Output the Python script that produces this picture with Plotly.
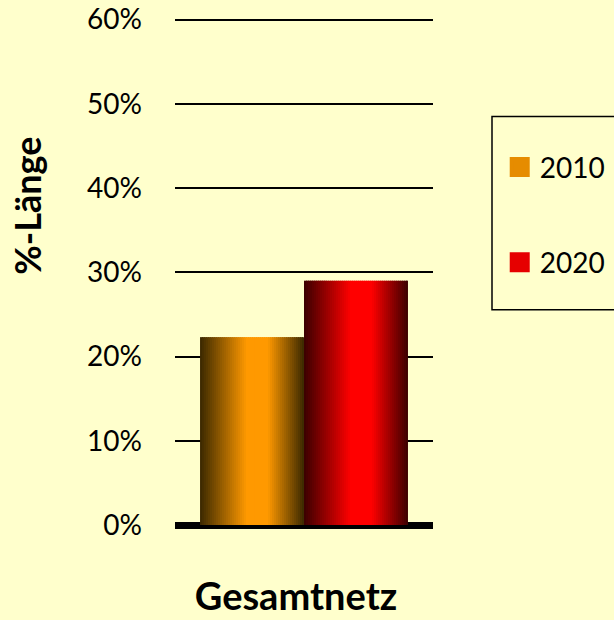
import plotly.graph_objects as go

categories = ["Gesamtnetz"]
series_names = ["2010", "2020"]
values_2010 = [0.223]
values_2020 = [0.29]
y_tick_vals = [0, 0.1, 0.2, 0.3, 0.4, 0.5, 0.6]
y_tick_text = ["0%", "10%", "20%", "30%", "40%", "50%", "60%"]

series_values = [values_2010, values_2020]
edge_colors = [(0x3A, 0x28, 0x00), (0x3A, 0x00, 0x00)]
center_colors = [(0xFF, 0x99, 0x00), (0xFF, 0x00, 0x00)]

FONT = "Lato"
BG = "#FFFFCC"

fig = go.Figure()

group_width = 0.806
bar_w = group_width / 2
N = 52


def grad(t):
    if t < 0.45:
        return t / 0.45
    if t < 0.65:
        return 1.0
    return max(0.0, 1 - (t - 0.65) / 0.35)


for s, vals in enumerate(series_values):
    start = -group_width / 2 + s * bar_w
    for i in range(N):
        t = (i + 0.5) / N
        g = grad(t)
        e, c = edge_colors[s], center_colors[s]
        col = "rgb(%d,%d,%d)" % tuple(round(e[k] + (c[k] - e[k]) * g) for k in range(3))
        sw = bar_w / N
        w = sw * (1.6 if i < N - 1 else 1.0)
        fig.add_trace(go.Bar(
            x=categories, y=vals, width=w, offset=start + i * sw,
            marker=dict(color=col, line=dict(width=0)),
            showlegend=False, hoverinfo="skip",
        ))

legend_colors = ["rgb(230,140,0)", "rgb(230,0,0)"]
for s, name in enumerate(series_names):
    fig.add_trace(go.Scatter(
        x=[None], y=[None], mode="markers", name=name,
        marker=dict(symbol="square", size=16, color=legend_colors[s],
                    line=dict(width=4, color=legend_colors[s])),
        legendgroup=name,
    ))

PLOT_TOP = 20
PLOT_ZERO = 525
YMAX = 0.603
px_per_unit = (PLOT_ZERO - PLOT_TOP) / 0.6
top_margin = PLOT_ZERO - px_per_unit * YMAX


def py(v):
    return (PLOT_ZERO - v) / (px_per_unit * YMAX)


fig.update_layout(
    width=614, height=620,
    paper_bgcolor=BG, plot_bgcolor=BG,
    margin=dict(l=175, r=181, t=top_margin, b=620 - PLOT_ZERO, autoexpand=False),
    barmode="overlay",
    font=dict(family=FONT, size=28, color="#000000"),
    xaxis=dict(
        range=[-0.5, 0.5], showgrid=False, zeroline=False, showline=False,
        ticks="", ticklabelstandoff=46, ticklabelshift=-8, automargin=False,
        tickfont=dict(family=FONT, size=38, color="#000000", weight="bold"),
    ),
    yaxis=dict(
        range=[0, YMAX], tickvals=y_tick_vals, ticktext=y_tick_text,
        showgrid=True, gridcolor="#000000", gridwidth=2,
        zeroline=True, zerolinecolor="#000000", zerolinewidth=7,
        showline=False, ticks="", ticklabelstandoff=32, automargin=False,
        tickfont=dict(family=FONT, size=28, color="#000000"),
    ),
    legend=dict(
        x=1.2586, y=py(215), xanchor="left", yanchor="middle",
        bgcolor="rgba(0,0,0,0)", borderwidth=0,
        font=dict(family=FONT, size=28, color="#000000"),
        traceorder="grouped", tracegroupgap=56, itemwidth=30,
    ),
    annotations=[dict(
        text="<b>%-Länge</b>", textangle=-90, xref="paper", yref="paper",
        x=0, xshift=-172, y=py(206), showarrow=False,
        font=dict(family=FONT, size=36, color="#000000"),
    )],
    shapes=[dict(
        type="rect", xref="paper", yref="paper",
        x0=(492 - 175) / 258, x1=(640 - 175) / 258,
        y0=py(310), y1=py(117),
        line=dict(color="#000000", width=1.5), fillcolor="rgba(0,0,0,0)",
    )],
)

fig.write_html(
    "out.html",
    config={"displayModeBar": False},
    post_script="document.body.style.margin='0px';document.body.style.padding='0px';",
)
